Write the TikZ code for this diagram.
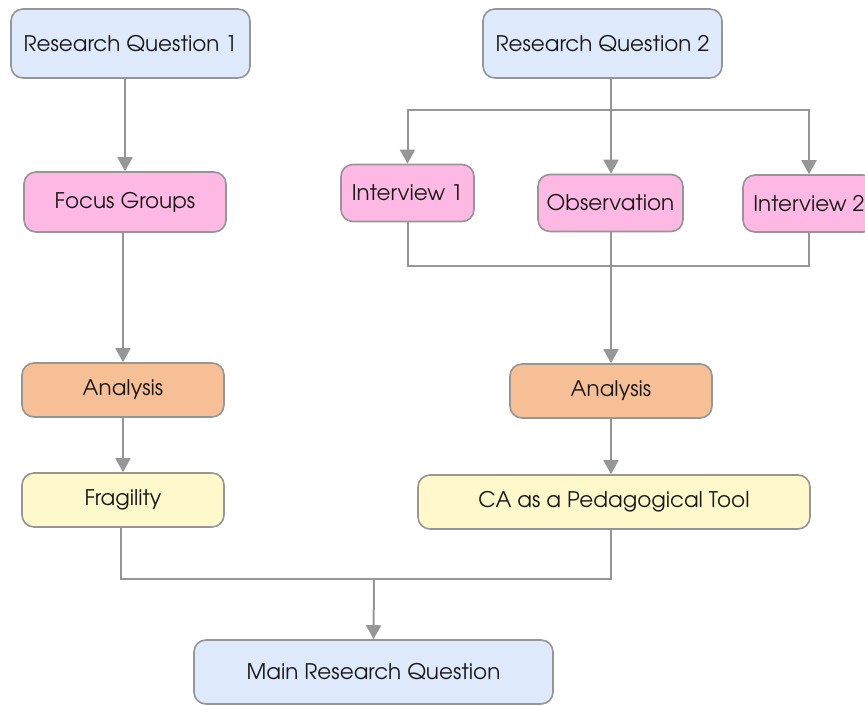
\documentclass[tikz,border=0pt]{standalone}
\usepackage{fontspec}
\setmainfont{TeX Gyre Adventor}
\usetikzlibrary{arrows.meta}
\definecolor{edgegray}{RGB}{150,150,150}
\definecolor{qblue}{RGB}{222,233,252}
\definecolor{mpink}{RGB}{253,185,228}
\definecolor{aorange}{RGB}{246,191,149}
\definecolor{ryellow}{RGB}{255,248,202}
\definecolor{inkdark}{RGB}{25,25,25}
\tikzset{
  box/.style={draw=edgegray, line width=1.6pt, rounded corners=12pt,
    text=inkdark, font=\fontsize{21.5}{24}\selectfont, inner sep=0pt, align=center},
  qbox/.style={box, fill=qblue},
  mbox/.style={box, fill=mpink},
  abox/.style={box, fill=aorange},
  rbox/.style={box, fill=ryellow},
  link/.style={draw=edgegray, line width=2pt},
  arr/.style={link, -{Triangle[width=15pt,length=14pt]}},
}
\begin{document}
\begin{tikzpicture}[x=1pt,y=-1pt]
\useasboundingbox (0,0) rectangle (865,706);
% question boxes
\node[qbox, minimum width=239pt, minimum height=69pt] (rq1) at (130.5,43.5) {Research Question 1};
\node[qbox, minimum width=239pt, minimum height=69pt] (rq2) at (602.5,43.5) {Research Question 2};
% data collection
\node[mbox, minimum width=202pt, minimum height=60pt] (fg) at (125,202) {Focus Groups};
\node[mbox, minimum width=133pt, minimum height=57pt] (iv1) at (407.5,193) {Interview 1};
\node[mbox, minimum width=145pt, minimum height=57pt] (obs) at (610.5,203) {Observation};
\node[mbox, minimum width=132pt, minimum height=57pt] (iv2) at (809,203.5) {Interview 2};
% analysis
\node[abox, minimum width=202pt, minimum height=54pt] (an1) at (123,390) {Analysis};
\node[abox, minimum width=202pt, minimum height=54pt] (an2) at (611,391) {Analysis};
% results
\node[rbox, minimum width=202pt, minimum height=54pt] (fr) at (123,500) {Fragility};
\node[rbox, minimum width=392pt, minimum height=54pt] (ca) at (614,502) {CA as a Pedagogical Tool};
% main question
\node[qbox, minimum width=359pt, minimum height=64pt] (mrq) at (373.5,672) {Main Research Question};

% junction points
\coordinate (split) at (611,110);
\coordinate (join) at (611,266);
\coordinate (merge) at (374,579);

% left branch
\draw[arr] (fg.north |- rq1.south) -- (fg.north);
\draw[arr] (an1.north |- fg.south) -- (an1.north);
\draw[arr] (an1) -- (fr.north);

% right branch
\draw[link] (split |- rq2.south) -- (split);
\draw[arr] (split) -| (iv1.north);
\draw[arr] (split) -| (iv2.north);
\draw[arr] (split) -- (split |- obs.north);
\draw[link] (iv1.south) |- (join) -| (iv2.south);
\draw[arr] (split |- obs.south) -- (split |- an2.north);
\draw[arr] (split |- an2.south) -- (split |- ca.north);

% merge into main question
\draw[link] ([xshift=-2pt]fr.south) |- (merge) -| (split |- ca.south);
\draw[arr] (merge) -- (mrq.north);
\end{tikzpicture}
\end{document}
